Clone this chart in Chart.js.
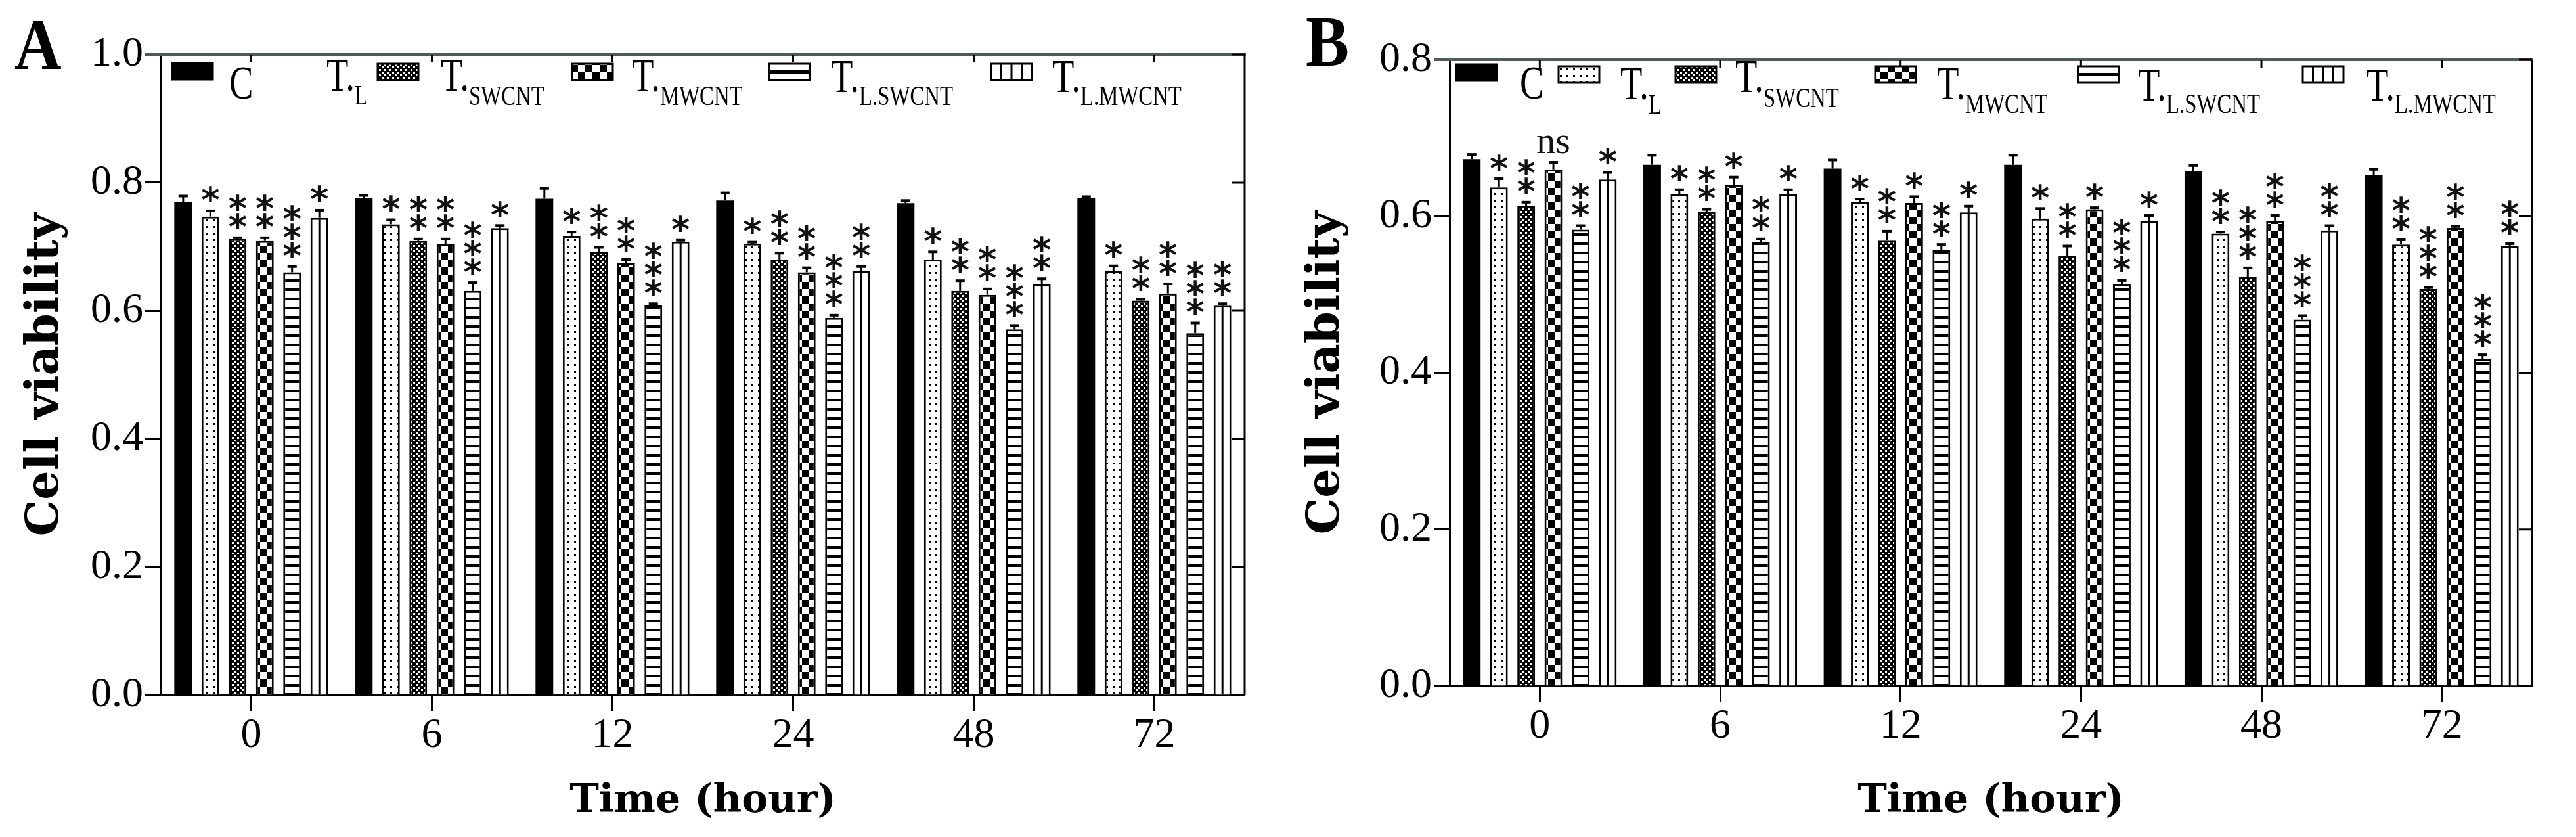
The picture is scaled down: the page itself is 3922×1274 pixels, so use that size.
<!DOCTYPE html>
<html>
<head>
<meta charset="utf-8">
<script src="https://cdn.jsdelivr.net/npm/chart.js@4.4.0/dist/chart.umd.min.js"></script>
<style>
  html, body { margin: 0; padding: 0; background: #fff; }
  #wrap { position: relative; width: 3922px; height: 1274px; }
  .panel { position: absolute; top: 0; width: 1961px; height: 1274px; }
  #panelA { left: 0; }
  #panelB { left: 1961px; }
</style>
</head>
<body>
<div id="wrap">
  <div class="panel" id="panelA"><canvas id="chartA"></canvas></div>
  <div class="panel" id="panelB"><canvas id="chartB"></canvas></div>
</div>
<script>
// time points (hour)
const categories = ['0', '6', '12', '24', '48', '72'];
const seriesNames = ['C', 'T.L', 'T.SWCNT', 'T.MWCNT', 'T.L.SWCNT', 'T.L.MWCNT'];
const legendMain = ['C', 'T.', 'T.', 'T.', 'T.', 'T.'];
const legendSub = ['', 'L', 'SWCNT', 'MWCNT', 'L.SWCNT', 'L.MWCNT'];

const yTicksA = [0, 0.2, 0.4, 0.6, 0.8, 1.0];
const yLabelsA = ['0.0', '0.2', '0.4', '0.6', '0.8', '1.0'];
const yTicksB = [0, 0.2, 0.4, 0.6, 0.8];
const yLabelsB = ['0.0', '0.2', '0.4', '0.6', '0.8'];

// panel A - cell viability
const aC     = [0.770, 0.776, 0.775, 0.772, 0.768, 0.776];
const aTL    = [0.747, 0.735, 0.717, 0.705, 0.680, 0.662];
const aTSW   = [0.712, 0.709, 0.692, 0.680, 0.631, 0.616];
const aTMW   = [0.709, 0.704, 0.674, 0.660, 0.625, 0.627];
const aTLSW  = [0.660, 0.631, 0.609, 0.589, 0.571, 0.565];
const aTLMW  = [0.745, 0.729, 0.708, 0.662, 0.641, 0.608];
// panel A - error (upper half only)
const aCErr    = [0.009, 0.004, 0.016, 0.012, 0.004, 0.002];
const aTLErr   = [0.009, 0.007, 0.006, 0.002, 0.012, 0.008];
const aTSWErr  = [0.002, 0.003, 0.007, 0.010, 0.016, 0.002];
const aTMWErr  = [0.005, 0.008, 0.006, 0.007, 0.009, 0.015];
const aTLSWErr = [0.009, 0.013, 0.002, 0.004, 0.006, 0.016];
const aTLMWErr = [0.012, 0.004, 0.002, 0.007, 0.009, 0.003];
// panel A - significance marks
const aCSig    = ['', '', '', '', '', ''];
const aTLSig   = ['*', '*', '*', '*', '*', '*'];
const aTSWSig  = ['**', '**', '**', '**', '**', '**'];
const aTMWSig  = ['**', '**', '**', '**', '**', '**'];
const aTLSWSig = ['***', '***', '***', '***', '***', '***'];
const aTLMWSig = ['*', '*', '*', '**', '**', '**'];

// panel B - cell viability
const bC     = [0.673, 0.666, 0.661, 0.666, 0.658, 0.653];
const bTL    = [0.637, 0.628, 0.618, 0.597, 0.578, 0.564];
const bTSW   = [0.613, 0.606, 0.569, 0.549, 0.523, 0.507];
const bTMW   = [0.660, 0.640, 0.617, 0.609, 0.594, 0.585];
const bTLSW  = [0.583, 0.567, 0.557, 0.513, 0.468, 0.418];
const bTLMW  = [0.647, 0.628, 0.605, 0.594, 0.582, 0.562];
const bCErr    = [0.006, 0.012, 0.011, 0.012, 0.007, 0.007];
const bTLErr   = [0.011, 0.006, 0.004, 0.013, 0.002, 0.006];
const bTSWErr  = [0.005, 0.003, 0.012, 0.013, 0.011, 0.002];
const bTMWErr  = [0.009, 0.010, 0.008, 0.002, 0.007, 0.002];
const bTLSWErr = [0.005, 0.004, 0.007, 0.005, 0.005, 0.005];
const bTLMWErr = [0.009, 0.006, 0.008, 0.007, 0.006, 0.003];
const bCSig    = ['', '', '', '', '', ''];
const bTLSig   = ['*', '*', '*', '*', '**', '**'];
const bTSWSig  = ['**', '**', '**', '**', '***', '***'];
const bTMWSig  = ['ns', '*', '*', '*', '**', '**'];
const bTLSWSig = ['**', '**', '**', '***', '***', '***'];
const bTLMWSig = ['*', '*', '*', '*', '**', '**'];

function makePattern(size, draw) {
    const c = document.createElement('canvas');
    c.width = size; c.height = size;
    const g = c.getContext('2d');
    draw(g, size);
    return g.createPattern(c, 'repeat');
}

const dotFill = makePattern(10, (g, s) => {
    g.fillStyle = '#fff'; g.fillRect(0, 0, s, s);
    g.fillStyle = '#000'; g.fillRect(4, 4, 3, 3);
});
const fineCheck = makePattern(8, (g, s) => {
    g.fillStyle = '#000'; g.fillRect(0, 0, s, s);
    g.fillStyle = '#fff'; g.fillRect(1, 1, 3, 3); g.fillRect(5, 5, 3, 3);
});
const bigCheck = makePattern(22, (g, s) => {
    g.fillStyle = '#fff'; g.fillRect(0, 0, s, s);
    g.fillStyle = '#000'; g.fillRect(0, 0, 11, 11); g.fillRect(11, 11, 11, 11);
});
const hLines = makePattern(14, (g, s) => {
    g.fillStyle = '#fff'; g.fillRect(0, 0, s, s);
    g.fillStyle = '#000'; g.fillRect(0, 5, s, 4);
});
const fills = ['#000', dotFill, fineCheck, bigCheck, hLines, '#fff'];

function condensedText(ctx, txt, x, y, font, sx) {
    ctx.save();
    ctx.font = font;
    const w = ctx.measureText(txt).width * sx;
    ctx.translate(x, y);
    ctx.scale(sx, 1);
    ctx.fillText(txt, 0, 0);
    ctx.restore();
    return w;
}

function drawSwatch(ctx, i, x, y, w, h) {
    ctx.save();
    ctx.fillStyle = (i === 4 || i === 5) ? '#fff' : fills[i];
    ctx.fillRect(x, y, w, h);
    ctx.strokeStyle = '#000';
    if (i === 4) {
        ctx.lineWidth = 5;
        ctx.beginPath(); ctx.moveTo(x, y + h / 2); ctx.lineTo(x + w, y + h / 2); ctx.stroke();
    }
    if (i === 5) {
        ctx.lineWidth = 3;
        ctx.beginPath();
        [0.25, 0.5, 0.75].forEach(f => { ctx.moveTo(x + w * f, y); ctx.lineTo(x + w * f, y + h); });
        ctx.stroke();
    }
    ctx.lineWidth = 3;
    ctx.strokeRect(x, y, w, h);
    ctx.restore();
}

const STAR_FONT = 'bold 54px "DejaVu Sans"';

const panelDecor = {
    id: 'panelDecor',
    afterDatasetsDraw(chart, args, opts) {
        const ctx = chart.ctx;
        const yScale = chart.scales.y;
        ctx.save();
        ctx.fillStyle = '#111';
        ctx.strokeStyle = '#000';
        ctx.font = STAR_FONT;
        const m = ctx.measureText('*');
        const starShift = (m.actualBoundingBoxAscent - m.actualBoundingBoxDescent) / 2;
        chart.data.datasets.forEach((ds, i) => {
            const meta = chart.getDatasetMeta(i);
            meta.data.forEach((bar, j) => {
                const v = ds.data[j];
                if (i === 5) {
                    ctx.lineWidth = 3;
                    ctx.beginPath(); ctx.moveTo(bar.x, bar.y); ctx.lineTo(bar.x, bar.base); ctx.stroke();
                }
                const yTop = yScale.getPixelForValue(v + ds.errors[j]);
                ctx.lineWidth = 3;
                ctx.beginPath();
                ctx.moveTo(bar.x, bar.y); ctx.lineTo(bar.x, yTop);
                ctx.stroke();
                ctx.lineWidth = 4;
                ctx.beginPath();
                ctx.moveTo(bar.x - 7, yTop); ctx.lineTo(bar.x + 7, yTop);
                ctx.stroke();
                const s = ds.sig[j];
                if (!s) return;
                ctx.textAlign = 'center';
                ctx.textBaseline = 'alphabetic';
                if (s === 'ns') {
                    ctx.font = '58px "Liberation Serif"';
                    ctx.fillText('ns', bar.x, yTop - 14);
                    ctx.font = STAR_FONT;
                    return;
                }
                for (let k = 0; k < s.length; k++) {
                    const cy = yTop - 25 - k * 28;
                    ctx.fillText('*', bar.x, cy + starShift);
                }
            });
        });
        ctx.restore();
    },
    afterDraw(chart, args, opts) {
        const ctx = chart.ctx;
        const {left, right, top, bottom} = chart.chartArea;
        const x = chart.scales.x, y = chart.scales.y;
        ctx.save();
        // top border
        ctx.strokeStyle = '#4f5b5b';
        ctx.lineWidth = 4;
        ctx.beginPath(); ctx.moveTo(left - 24, top); ctx.lineTo(right + 2, top); ctx.stroke();
        // right border + inward ticks
        ctx.strokeStyle = '#000';
        ctx.lineWidth = 3;
        ctx.beginPath(); ctx.moveTo(right, top); ctx.lineTo(right, bottom); ctx.stroke();
        ctx.beginPath();
        y.ticks.forEach(t => {
            const py = y.getPixelForValue(t.value);
            ctx.moveTo(right - 20, py); ctx.lineTo(right, py);
        });
        x.ticks.forEach((t, i) => {
            const px = x.getPixelForTick(i);
            ctx.moveTo(px, top); ctx.lineTo(px, top + 12);
        });
        ctx.stroke();

        // legend
        ctx.fillStyle = '#000';
        ctx.textAlign = 'left';
        ctx.textBaseline = 'alphabetic';
        const L = opts.legend;
        seriesNames.forEach((name, i) => {
            if (L.swatchX[i] !== null) drawSwatch(ctx, i, L.swatchX[i], L.swatchY[i], 62, 25);
            let tx = L.textX[i];
            tx += condensedText(ctx, legendMain[i], tx, L.mainBase[i], '72px "Liberation Serif"', 0.76);
            if (legendSub[i]) condensedText(ctx, legendSub[i], tx, L.subBase[i], '42px "Liberation Serif"', 0.78);
        });

        // panel letter
        condensedText(ctx, opts.letter, opts.letterX, opts.letterY, 'bold 110px "Liberation Serif"', 0.9);
        ctx.restore();
    }
};

function buildChart(id, p) {
    const datasets = p.values.map((vals, i) => ({
        label: seriesNames[i],
        data: vals,
        errors: p.errors[i],
        sig: p.sig[i],
        backgroundColor: fills[i],
        borderColor: '#000',
        borderWidth: i === 0 ? 0 : 3,
        categoryPercentage: 0.905,
        barPercentage: 0.65
    }));

    return new Chart(document.getElementById(id), {
        type: 'bar',
        data: { labels: categories, datasets: datasets },
        plugins: [panelDecor],
        options: {
            responsive: true,
            maintainAspectRatio: false,
            animation: false,
            devicePixelRatio: 1,
            layout: { padding: { left: 0, right: p.padRight, top: p.padTop, bottom: 0 } },
            plugins: {
                legend: { display: false },
                tooltip: { enabled: false },
                panelDecor: { legend: p.legend, letter: p.letter, letterX: p.letterX, letterY: p.letterY }
            },
            scales: {
                x: {
                    offset: true,
                    grid: { offset: false, drawOnChartArea: false, drawTicks: true, tickLength: 24, tickWidth: 3, tickColor: '#000' },
                    border: { display: true, color: '#000', width: 4 },
                    ticks: { color: '#000', font: { family: 'Liberation Serif', size: 64 }, padding: 0, maxRotation: 0, autoSkip: false },
                    title: {
                        display: true, text: 'Time (hour)', color: '#000',
                        font: { family: 'DejaVu Serif', weight: 'bold', size: 60 },
                        padding: { top: 0, bottom: 18 }
                    },
                    afterFit: s => { s.height = p.xHeight; }
                },
                y: {
                    min: 0,
                    max: p.yMax,
                    afterBuildTicks: s => { s.ticks = p.yTicks.map(v => ({ value: v })); },
                    ticks: { color: '#000', font: { family: 'Liberation Serif', size: 64 }, padding: 3,
                        callback: (v, i) => p.yLabels[i] },
                    grid: { drawOnChartArea: false, tickLength: 24, tickWidth: 3, tickColor: '#000' },
                    border: { display: true, color: '#000', width: 3 },
                    title: {
                        display: true, text: 'Cell viability', color: '#000',
                        font: { family: 'DejaVu Serif', weight: 'bold', size: 70 },
                        padding: { top: p.yTitlePad, bottom: 0 }
                    },
                    afterFit: s => { s.width = p.yWidth; }
                }
            }
        }
    });
}

buildChart('chartA', {
    values: [aC, aTL, aTSW, aTMW, aTLSW, aTLMW],
    errors: [aCErr, aTLErr, aTSWErr, aTMWErr, aTLSWErr, aTLMWErr],
    sig: [aCSig, aTLSig, aTSWSig, aTMWSig, aTLSWSig, aTLMWSig],
    yTicks: yTicksA, yLabels: yLabelsA, yMax: 1.0,
    padTop: 83, padRight: 66, yWidth: 245, xHeight: 216, yTitlePad: 28,
    letter: 'A', letterX: 22, letterY: 105,
    legend: {
        swatchX: [262, null, 575, 871, 1171, 1509],
        swatchY: [96, 96, 97, 97, 97, 97],
        textX: [349, 497, 671, 962, 1265, 1602],
        mainBase: [150, 138, 138, 139, 140, 140],
        subBase: [0, 159, 160, 160, 160, 160]
    }
});

buildChart('chartB', {
    values: [bC, bTL, bTSW, bTMW, bTLSW, bTLMW],
    errors: [bCErr, bTLErr, bTSWErr, bTMWErr, bTLSWErr, bTLMWErr],
    sig: [bCSig, bTLSig, bTSWSig, bTMWSig, bTLSWSig, bTLMWSig],
    yTicks: yTicksB, yLabels: yLabelsB, yMax: 0.8,
    padTop: 91, padRight: 67, yWidth: 246, xHeight: 230, yTitlePad: 17,
    letter: 'B', letterX: 27, letterY: 100,
    legend: {
        swatchX: [256, 412, 590, 894, 1203, 1545],
        swatchY: [98, 101, 101, 101, 101, 101],
        textX: [353, 506, 681, 988, 1294, 1642],
        mainBase: [150, 151, 140, 151, 153, 153],
        subBase: [0, 173, 163, 172, 172, 172]
    }
});
</script>
</body>
</html>
